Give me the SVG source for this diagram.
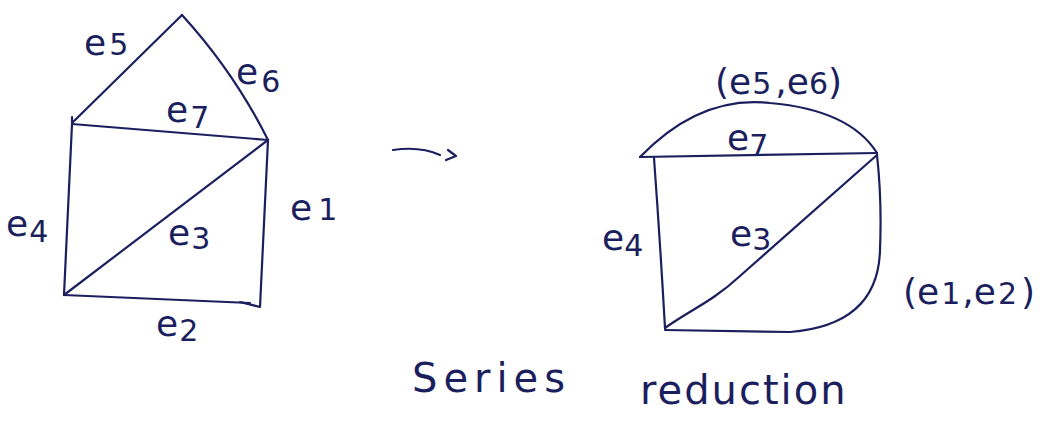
<svg xmlns="http://www.w3.org/2000/svg" width="1056" height="428" viewBox="0 0 1056 428">
<style>
.e{fill:none;stroke:#1c1f5e;stroke-width:2.2;stroke-linecap:round;stroke-linejoin:round}
.t{font-family:"DejaVu Sans","Liberation Sans",sans-serif;fill:#1c1f5e;font-size:36px}
.s{font-size:30px}
.c{font-size:40px}
</style>
<rect width="1056" height="428" fill="#ffffff"/>
<g id="connectors">
<path class="e" d="M72,117 L72,123 L182,15"/>
<path class="e" d="M182,15 Q234,72 268,140"/>
<path class="e" d="M72,124 L268,140"/>
<path class="e" d="M268,140 L260,307 L240,302"/>
<path class="e" d="M64,295 L250,303"/>
<path class="e" d="M64,295 L268,140"/>
<path class="e" d="M72,124 L64,295"/>
<path class="e" d="M393,150 Q420,146 440,155 M448,150 L456,156 L446,160"/>
<path class="e" d="M640,157 Q700,95 770,103 Q850,110 877,153"/>
<path class="e" d="M640,157 L877,153"/>
<path class="e" d="M654,158 Q660,240 665,328"/>
<path class="e" d="M665,328 C690,310 712,302 740,276 L877,155"/>
<path class="e" d="M877,155 Q882,200 880,250 Q878,325 790,332 L665,330"/>
</g>
<g id="n-left-labels">
<text class="t" x="84" y="55">e<tspan class="s" dx="3">5</tspan></text>
<text class="t" x="236" y="84">e<tspan class="s" dx="3" dy="8">6</tspan></text>
<text class="t" x="166" y="122">e<tspan class="s" dx="2" dy="6">7</tspan></text>
<text class="t" x="290" y="220">e<tspan class="s" dx="6">1</tspan></text>
<text class="t" x="168" y="245">e<tspan class="s" dx="1" dy="4">3</tspan></text>
<text class="t" x="6" y="236">e<tspan class="s" dx="1" dy="6">4</tspan></text>
<text class="t" x="156" y="336">e<tspan class="s" dx="1" dy="5">2</tspan></text>
</g>
<g id="n-right-labels">
<text class="t" x="715" y="94">(e<tspan class="s" dx="1">5</tspan><tspan dx="4">,</tspan>e<tspan class="s">6</tspan>)</text>
<text class="t" x="727" y="150">e<tspan class="s" dy="6">7</tspan></text>
<text class="t" x="602" y="250">e<tspan class="s" dy="6">4</tspan></text>
<text class="t" x="730" y="246">e<tspan class="s" dy="4">3</tspan></text>
<text class="t" x="903" y="304">(e<tspan class="s" dx="2">1</tspan><tspan dx="2">,</tspan>e<tspan class="s" dx="2">2</tspan><tspan dx="4">)</tspan></text>
</g>
<g id="n-caption">
<text class="t c" x="412" y="392" letter-spacing="6">Series</text>
<text class="t c" x="640" y="404" letter-spacing="2">reduction</text>
</g>
</svg>
